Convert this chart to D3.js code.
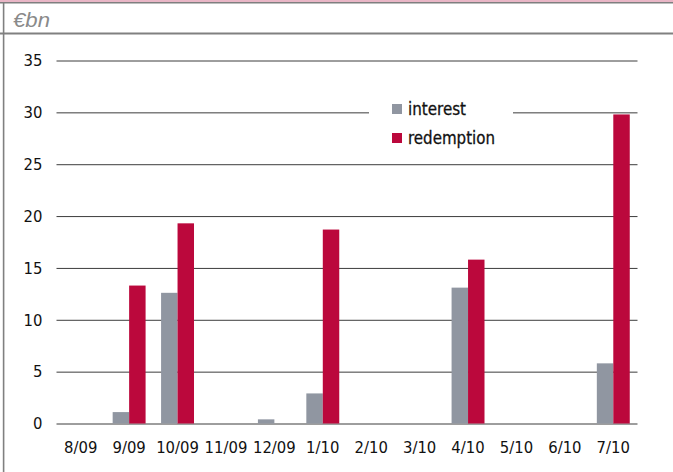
<!DOCTYPE html>
<html><head><meta charset="utf-8">
<script src="https://cdn.jsdelivr.net/npm/d3@7"></script>
<style>
html,body{margin:0;padding:0;background:#fff;}
svg{display:block;}
text{font-family:"DejaVu Sans Condensed","Liberation Sans Narrow",sans-serif;}
</style></head>
<body>
<script>
const categories = ["8/09","9/09","10/09","11/09","12/09","1/10","2/10","3/10","4/10","5/10","6/10","7/10"];
const interest   = [0, 1.1, 12.6, 0, 0.4, 2.9, 0, 0, 13.1, 0, 0, 5.8];
const redemption = [0, 13.3, 19.3, 0, 0, 18.7, 0, 0, 15.8, 0, 0, 29.8];
const yTicks = [0,5,10,15,20,25,30,35];
const seriesNames = ["interest","redemption"];
const seriesColors = ["#9096a1","#bb083c"];

const W = 673, H = 472;
const svg = d3.select("body").append("svg").attr("width",W).attr("height",H);

// frame
svg.append("rect").attr("x",0).attr("y",0).attr("width",W).attr("height",2).attr("fill","#e9b6c6");
svg.append("rect").attr("x",0).attr("y",2).attr("width",W).attr("height",1.5).attr("fill","#7f7f7f");
svg.append("rect").attr("x",0).attr("y",32.5).attr("width",W).attr("height",2).attr("fill","#808080");
svg.append("rect").attr("x",2.8).attr("y",2).attr("width",1.6).attr("height",H).attr("fill","#808080");

svg.append("text").attr("x",13).attr("y",26.5).attr("font-size",21).attr("font-style","italic")
  .attr("textLength",37).attr("lengthAdjust","spacingAndGlyphs")
  .attr("fill","#8a8a8a").style("font-family","'Liberation Sans',Arial,sans-serif").text("€bn");

const x0 = d3.scaleBand().domain(categories).range([56.5,637.5]).paddingInner(0).paddingOuter(0);
const x1 = d3.scaleBand().domain(seriesNames).range([x0.bandwidth()*0.16, x0.bandwidth()*0.84]);
const y = d3.scaleLinear().domain([0,35]).range([423.5,60.5]);

// gridlines via axis
const yAxis = d3.axisLeft(y).tickValues(yTicks).tickSize(-(x0.range()[1]-x0.range()[0])).tickPadding(14);
const gy = svg.append("g").attr("transform",`translate(${x0.range()[0]},0)`).call(yAxis);
gy.select(".domain").remove();
gy.selectAll(".tick line").attr("stroke","#3c3c3c").attr("stroke-width",1);
gy.selectAll(".tick text").attr("font-size",16.5).attr("fill","#111")
  .style("font-family","'DejaVu Sans Condensed','Liberation Sans Narrow',sans-serif");

// bars
const data = categories.map((c,i)=>({c, vals:[interest[i], redemption[i]]}));
const g = svg.append("g");
data.forEach(d=>{
  d.vals.forEach((v,j)=>{
    if(v<=0) return;
    g.append("rect")
      .attr("x", x0(d.c)+x1(seriesNames[j]))
      .attr("y", y(v))
      .attr("width", x1.bandwidth())
      .attr("height", y(0)-y(v))
      .attr("fill", seriesColors[j]);
  });
});

// x axis labels
const xAxis = d3.axisBottom(x0).tickSize(0).tickPadding(18);
const gx = svg.append("g").attr("transform",`translate(0,${y(0)})`).call(xAxis);
gx.select(".domain").remove();
gx.selectAll(".tick text").attr("font-size",16.5).attr("fill","#111")
  .style("font-family","'DejaVu Sans Condensed','Liberation Sans Narrow',sans-serif");

// legend
const legendTextWidths = [58, 87];
const lg = svg.append("g");
lg.append("rect").attr("x",369).attr("y",95).attr("width",144).attr("height",56).attr("fill","#fff");
seriesNames.forEach((n,i)=>{
  const yy = 104 + i*29;
  lg.append("rect").attr("x",392).attr("y",yy).attr("width",10).attr("height",10).attr("fill",seriesColors[i]);
  lg.append("text").attr("x",408).attr("y",yy+5).attr("dy","0.35em").attr("font-size",18.5)
    .attr("textLength",legendTextWidths[i]).attr("lengthAdjust","spacingAndGlyphs")
    .attr("stroke","#111").attr("stroke-width",0.3)
    .attr("fill","#111").text(n);
});
</script>
</body></html>
